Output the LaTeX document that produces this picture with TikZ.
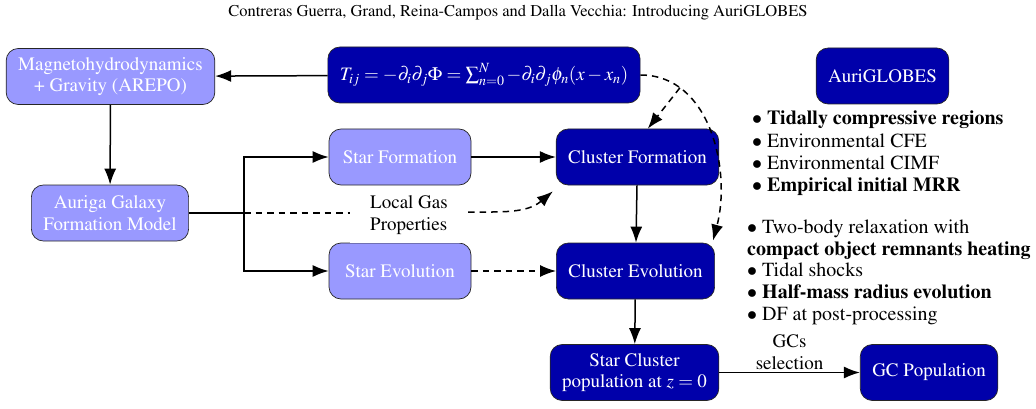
\documentclass[tikz,border=0pt]{standalone}
\usepackage[T1]{fontenc}
\usepackage{mathptmx}
\usetikzlibrary{arrows.meta,calc}
\definecolor{lightnode}{RGB}{153,153,255}
\definecolor{darknode}{RGB}{0,0,170}
\newcommand\nodefnt{\fontsize{19}{21.5}\selectfont}
\newcommand\listfntA{\fontsize{20}{22.3}\selectfont}
\newcommand\listfntB{\fontsize{20}{21.6}\selectfont}
\begin{document}
\begin{tikzpicture}[x=1pt,y=-1pt,
  box/.style={draw=black!85, rounded corners=12pt, minimum height=56pt, inner xsep=12pt,
    text=white, align=center, font=\nodefnt, line width=0.7pt},
  light/.style={box, fill=lightnode},
  dark/.style={box, fill=darknode},
  conn/.style={line width=1.5pt, -{Latex[length=16pt,width=12pt]}},
  plain/.style={line width=1.5pt},
  dconn/.style={conn, dash pattern=on 6.5pt off 5pt}]
\useasboundingbox (0,0) rectangle (1036,409);
\node[font=\fontsize{16.5}{19}\selectfont] (hdr) at (518,13) {Contreras Guerra, Grand, Reina-Campos and Dalla Vecchia: Introducing AuriGLOBES};

\node[light] (mhd) at (110.5,76.5) {Magnetohydrodynamics\\+ Gravity (AREPO)};
\node[dark] (ten) at (484,75) {$T_{ij} = -\partial_i\partial_j\Phi = \sum_{n=0}^{N} -\partial_i\partial_j\phi_n(x-x_n)$};
\node[light] (aur) at (110,213) {Auriga Galaxy\\Formation Model};
\node[light, minimum width=142pt] (sf) at (400,157) {Star Formation};
\node[light, minimum width=142pt] (se) at (400,271) {Star Evolution};
\node[dark] (cf) at (637.5,157) {Cluster Formation};
\node[dark] (ce) at (635.5,271) {Cluster Evolution};
\node[dark] (scp) at (634.5,372.5) {Star Cluster\\population at $z=0$};
\node[dark] (gcp) at (929,372.5) {GC Population};
\node[dark] (ag) at (882.5,76) {AuriGLOBES};

\node[anchor=north west, align=left, font=\listfntA, inner sep=0pt] (l1) at (752,111)
 {$\bullet$ \textbf{Tidally compressive regions}\\
  $\bullet$ Environmental CFE\\
  $\bullet$ Environmental CIMF\\
  $\bullet$ \textbf{Empirical initial MRR}};
\node[anchor=north west, align=left, font=\listfntB, inner sep=0pt] (l2) at (747,220)
 {$\bullet$ Two-body relaxation with\\
  \textbf{compact object remnants heating}\\
  $\bullet$ Tidal shocks\\
  $\bullet$ \textbf{Half-mass radius evolution}\\
  $\bullet$ DF at post-processing};

\coordinate (j) at (244,213);
\draw[conn] (ten) -- (mhd);
\draw[conn] (mhd) -- (aur);
\draw[plain] (aur.east) -- (j);
\draw[conn] (j) |- (sf.west);
\draw[conn] (j) |- (se.west);
\draw[conn] (sf) -- (cf);
\draw[dconn] (se) -- (ce);
\draw[conn] (cf) -- (ce);
\draw[conn] (ce) -- (scp);
\draw[conn] (scp) -- node[above, font=\nodefnt, align=center, yshift=-1pt] (gcl) {GCs\\selection} (gcp);

\node[fill=white, inner sep=0pt, minimum width=118pt, minimum height=56pt, font=\nodefnt, align=left] (lgp) at (409,215) {Local Gas\\Properties};
\draw[plain, dash pattern=on 6.5pt off 5pt] (j) -- (lgp.west |- j);
\draw[dconn] (lgp.east |- j) ++(0,-1) to[out=0,in=-140] ([xshift=-3pt,yshift=-6pt]cf.south west);

\draw[dconn] (ten.east) to[out=0,in=75] coordinate[pos=0.22] (br) ([xshift=-2pt,yshift=2pt]ce.north east);
\draw[dconn] (br) -- (cf.70);
\end{tikzpicture}
\end{document}
